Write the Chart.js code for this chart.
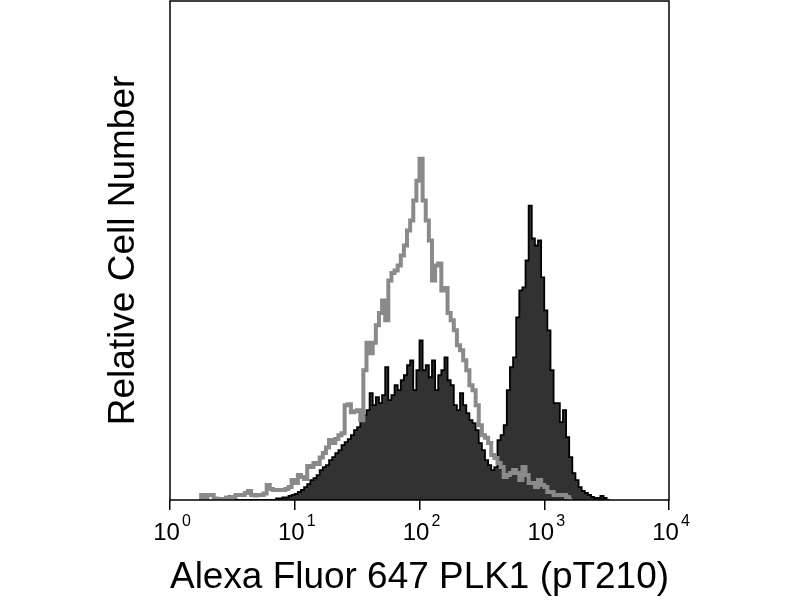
<!DOCTYPE html>
<html>
<head>
<meta charset="utf-8">
<script src="https://cdn.jsdelivr.net/npm/chart.js@4"></script>
<style>
  html, body { margin: 0; padding: 0; background: #fff; }
  #wrap { width: 800px; height: 600px; }
</style>
</head>
<body>
<div id="wrap"><canvas id="hist"></canvas></div>
<script>
// histogram channels: 40 bins per decade on a 4-decade log axis
const binsPerDecade = 40;
const decadeTicks = [1, 10, 100, 1000, 10000];
const tickBase = "10";
const tickExponents = ["0", "1", "2", "3", "4"];

// isotype / control (grey outline), first bin index then counts
const grayStartBin = 10;
const grayCounts = [
  0.8, 1, 0.4, 1, 1, 0.3, 0.2, 0.2, 0.2, 0.5,
  0.2, 0.6, 1, 1, 1, 1.4, 1.8, 1, 0.9, 1,
  1, 1.3, 3, 2.2, 2, 2, 2, 2, 2.2, 2.6,
  4, 3.4, 5, 4.6, 4.2, 6.8, 6.6, 7.4, 7.2, 8.5,
  9.4, 10.5, 12, 11.4, 12.2, 13, 13.4, 19, 19.2, 17.6,
  17.8, 18, 16, 26, 31.5, 29.4, 31.5, 35, 37.5, 40,
  36, 44, 45.5, 46, 47, 49, 51, 54, 56, 60,
  64, 68.4, 60, 56, 52, 44, 47, 47.4, 42, 42.5,
  37.5, 36, 34, 31, 30, 28, 26, 23, 22, 19,
  15, 13, 12.5, 11.4, 9, 8.4, 7.4, 6.6, 4.6, 5,
  5.4, 6, 5.4, 4, 6.6, 5, 3.4, 3.4, 2.6, 4,
  3, 2.6, 1.6, 1.6, 1, 1, 1, 1, 0.6
];

// PLK1 (pT210) stained sample (dark filled)
const darkStartBin = 19;
const darkCounts = [
  1, 0, 0, 0, 0, 0, 0, 0, 0, 0,
  0, 0, 0, 0, 0, 0, 0.3, 0.3, 0.5, 0.5,
  0.8, 1, 1.2, 1.6, 2, 2.6, 3.2, 4, 4.4, 5,
  6, 6.6, 7, 8, 8.6, 9.4, 10, 11, 11.6, 12.2,
  13, 14, 14.6, 16, 17, 18, 21.4, 19, 20.6, 19.4,
  21, 26.6, 20, 21, 23, 22, 24, 25, 27, 28,
  22, 26, 32, 26, 27, 24.6, 28, 22, 25, 26,
  28.6, 24, 23, 19, 18, 21.4, 19, 17.4, 16, 15.4,
  14, 11.4, 10, 8, 7, 6, 6.6, 12, 13, 15,
  22, 26.6, 28.6, 36.6, 42, 42.6, 48, 59, 52.4, 51,
  52, 44.6, 38, 34, 26, 19.4, 19.4, 15.6, 18, 12.6,
  8.6, 5.4, 4, 2.6, 1.8, 1.4, 1, 0.6, 0.4, 0.4,
  0.8, 0.4
];

// turn bin counts into step points (left edges, closed at both ends)
function stepPoints(startBin, counts) {
  const edge = (b) => Math.pow(10, b / binsPerDecade);
  const pts = [{ x: edge(startBin), y: 0 }];
  counts.forEach((c, k) => pts.push({ x: edge(startBin + k), y: c }));
  pts.push({ x: edge(startBin + counts.length), y: 0 });
  return pts;
}

// plot frame on all four sides + "10^n" tick labels with real superscripts
const framePlugin = {
  id: "frame",
  afterDraw(chart) {
    const { ctx, chartArea: a } = chart;
    const xs = chart.scales.x;
    ctx.save();
    ctx.strokeStyle = "#000";
    ctx.lineWidth = 1.5;
    ctx.strokeRect(a.left, a.top, a.right - a.left, a.bottom - a.top);

    const baseFont = "24px 'Liberation Sans', Arial, sans-serif";
    const supFont = "16px 'Liberation Sans', Arial, sans-serif";
    ctx.fillStyle = "#000";
    ctx.textBaseline = "alphabetic";
    ctx.textAlign = "left";
    decadeTicks.forEach((v, i) => {
      const px = xs.getPixelForValue(v);
      ctx.font = baseFont;
      const bw = ctx.measureText(tickBase).width;
      ctx.font = supFont;
      const sw = ctx.measureText(tickExponents[i]).width;
      const x0 = px - (bw + 2 + sw) / 2 + 2;
      ctx.font = baseFont;
      ctx.fillText(tickBase, x0, 540);
      ctx.font = supFont;
      ctx.fillText(tickExponents[i], x0 + bw + 2, 526);
    });
    ctx.restore();
  }
};

Chart.defaults.font.family = "'Liberation Sans', Arial, sans-serif";
Chart.defaults.color = "#000";

new Chart(document.getElementById("hist"), {
  type: "line",
  data: {
    datasets: [
      {
        label: "Control",
        data: stepPoints(grayStartBin, grayCounts),
        stepped: "after",
        borderColor: "#8a8a8a",
        borderWidth: 4,
        pointRadius: 0,
        fill: false,
        order: 0
      },
      {
        label: "PLK1 (pT210)",
        data: stepPoints(darkStartBin, darkCounts),
        stepped: "after",
        borderColor: "#000",
        borderWidth: 1.8,
        backgroundColor: "#323232",
        pointRadius: 0,
        fill: "origin",
        order: 1
      }
    ]
  },
  options: {
    responsive: true,
    maintainAspectRatio: false,
    animation: false,
    layout: { padding: { top: 1, right: 131, bottom: 0, left: 0 } },
    plugins: {
      legend: { display: false },
      tooltip: { enabled: false }
    },
    scales: {
      x: {
        type: "logarithmic",
        min: 1,
        max: 10000,
        afterBuildTicks: (s) => { s.ticks = decadeTicks.map((v) => ({ value: v })); },
        afterFit: (s) => { s.height = 100; },
        grid: { display: true, drawOnChartArea: false, drawTicks: true, tickLength: 10, color: "#000", lineWidth: 1.5 },
        border: { display: false },
        ticks: { display: false },
        title: {
          display: true,
          text: "Alexa Fluor 647 PLK1 (pT210)",
          font: { size: 37 },
          padding: 0
        }
      },
      y: {
        min: 0,
        max: 100,
        afterFit: (s) => { s.width = 170; },
        grid: { display: false },
        border: { display: false },
        ticks: { display: false },
        title: {
          display: true,
          text: "Relative Cell Number",
          font: { size: 37 },
          padding: 102
        }
      }
    }
  },
  plugins: [framePlugin]
});
</script>
</body>
</html>
